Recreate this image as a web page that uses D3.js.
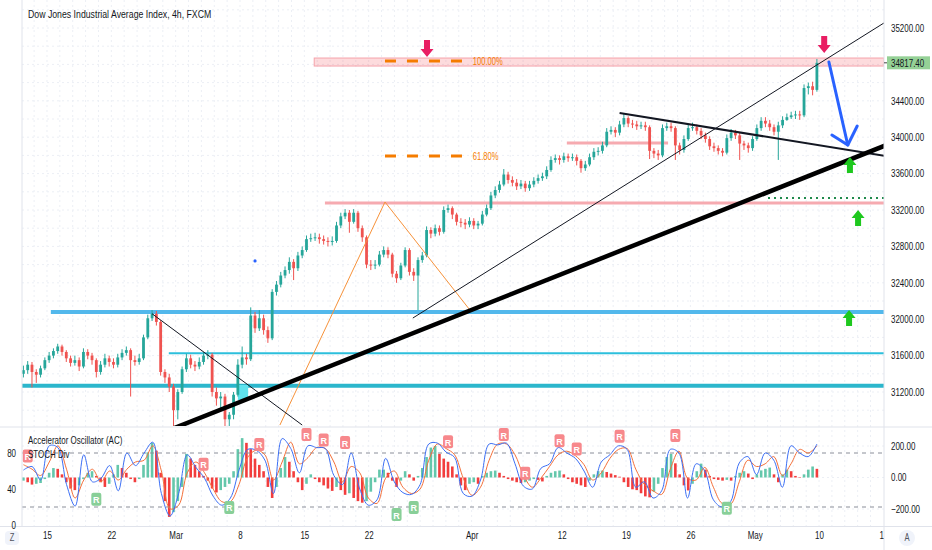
<!DOCTYPE html>
<meta charset="utf-8">
<style>
body{ margin:0; background:#fff; font-family:"Liberation Sans", Arial, sans-serif; }
svg text{ fill:#131722; }
</style>
<body>
<div id="chart"></div>
<script src="https://d3js.org/d3.v7.min.js"></script>
<script>

// ---- data (4h bars, 3 per trading day) ----
var firstOpen = 31400;
var closes = [
 31440,31500,31420,31390,31460,31550,31600,31650,31700,31640,
 31570,31520,31550,31480,31640,31600,31550,31420,31500,31570,
 31530,31500,31580,31630,31660,31550,31530,31570,31800,32010,
 32060,31970,31420,31360,31260,31000,31200,31450,31570,31500,
 31480,31530,31600,31610,31200,31130,31150,30900,30950,31170,
 31500,31580,31560,32040,31900,32010,31880,31790,32300,32380,
 32480,32540,32630,32560,32700,32760,32880,32890,32900,32880,
 32860,32850,32860,33030,33130,33170,33070,33170,33000,32900,
 32600,32590,32600,32710,32760,32710,32500,32450,32590,32760,
 32520,32480,32650,32700,32980,32940,33000,32960,33200,33220,
 33150,33070,33060,33040,33080,33030,33050,33150,33220,33360,
 33420,33480,33590,33530,33500,33460,33490,33440,33480,33520,
 33550,33570,33640,33750,33770,33750,33790,33770,33780,33740,
 33660,33700,33780,33840,33850,33910,34060,34080,34050,34140,
 34210,34150,34140,34120,34130,34110,33850,33820,33800,34100,
 34120,34100,33910,33860,33980,34100,34110,34070,34020,33980,
 33900,33880,33850,33830,33990,34050,34020,33930,33910,33880,
 33980,34100,34180,34150,34110,34060,34130,34190,34220,34240,
 34250,34240,34540,34560,34520,34817.4];
var highs = [
 31490,31540,31530,31450,31490,31580,31640,31680,31730,31720,
 31660,31600,31600,31580,31680,31670,31630,31570,31540,31620,
 31600,31570,31620,31670,31700,31680,31600,31620,31830,32050,
 32100,32090,31990,31450,31400,31290,31230,31480,31620,31610,
 31540,31580,31640,31660,31630,31250,31200,31180,30980,31200,
 31560,31700,31620,32130,32080,32100,32050,31920,32330,32420,
 32520,32580,32680,32660,32740,32800,32920,32940,32950,32940,
 32920,32900,32910,33070,33170,33210,33200,33210,33190,33030,
 32920,32650,32650,32750,32800,32790,32730,32530,32620,32790,
 32780,32560,32680,32740,33020,33010,33040,33030,33240,33260,
 33240,33170,33110,33100,33120,33110,33080,33190,33260,33400,
 33460,33520,33650,33620,33570,33540,33530,33520,33520,33560,
 33590,33610,33680,33790,33810,33800,33830,33820,33820,33810,
 33760,33740,33820,33880,33890,33950,34100,34120,34110,34180,
 34260,34230,34190,34180,34170,34170,34130,33880,33860,34140,
 34160,34160,34120,33940,34020,34140,34160,34140,34100,34050,
 34010,33940,33910,33880,34030,34090,34080,34050,33960,33940,
 34010,34140,34220,34220,34190,34140,34170,34230,34260,34280,
 34290,34290,34580,34600,34610,34860];
var lows = [
 31360,31400,31250,31300,31360,31440,31520,31570,31620,31600,
 31530,31480,31490,31430,31460,31560,31500,31360,31390,31470,
 31480,31460,31470,31550,31600,31150,31490,31500,31550,31780,
 31980,31930,31380,31300,31200,30700,30900,31180,31420,31460,
 31430,31450,31500,31560,31150,31050,31000,30750,30700,30900,
 31150,31460,31500,31540,31850,31870,31830,31740,31770,32260,
 32350,32450,32500,32430,32530,32670,32740,32850,32860,32830,
 32820,32800,32810,32840,33000,33100,32950,33050,32960,32850,
 32560,32540,32550,32580,32680,32670,32460,32400,32430,32570,
 32480,32420,32100,32620,32680,32890,32910,32920,32940,33170,
 33100,33030,33010,32990,33010,32990,32990,33030,33130,33200,
 33330,33390,33460,33490,33460,33420,33430,33400,33410,33450,
 33490,33520,33540,33620,33720,33700,33720,33730,33740,33690,
 33610,33630,33680,33750,33800,33820,33890,34030,34000,34020,
 34110,34110,34100,34080,34090,34070,33760,33770,33750,33780,
 34070,34060,33750,33810,33830,33960,34070,34030,33980,33940,
 33860,33840,33810,33790,33810,33960,33980,33750,33860,33830,
 33850,33960,34070,34110,34070,34020,33750,34100,34180,34200,
 34200,34190,34220,34470,34460,34500];

// Accelerator Oscillator, one value per bar
var acValues = [
 -20,-30,-45,-40,-35,-10,30,60,55,20,
 -30,-70,-80,-50,-10,30,40,10,-30,-60,
 -40,20,80,60,30,-10,-30,-10,80,160,
 220,170,30,-150,-250,-220,-150,-60,150,120,
 80,40,10,-20,-70,-95,-80,-60,-40,40,
 180,250,220,180,120,80,40,-60,-130,-60,
 60,130,100,40,-30,-80,-40,20,-10,-30,
 -50,-70,-85,-60,-80,-110,-100,-130,-150,-160,
 -150,-90,-30,50,50,30,-20,-60,-20,40,
 20,-20,10,60,130,190,200,150,120,100,
 70,20,-50,-80,-40,-30,-40,10,30,40,
 44,30,10,-10,-20,-30,-35,-30,-20,-10,
 -15,-25,10,30,40,44,20,-10,-30,-40,
 -50,-60,-20,20,40,44,35,25,15,5,
 -30,-60,-75,-80,-100,-120,-126,-90,-40,60,
 130,150,90,20,-50,-82,-40,40,88,50,
 10,-10,-15,-20,-15,-20,10,30,40,25,
 -10,20,45,55,63,20,-30,20,50,40,
 10,0,20,50,70,55];

// Stochastic, one sample every two bars
var stochK = [
 61,65,50,88,86,45,21,78,48,52, 66,38,80,66,80,92,35,10,35,78,
 64,52,32,22,30,61,84,83,72,35, 96,85,58,88,86,85,55,45,80,40,
 22,28,74,48,36,34,45,90,91,81, 75,35,32,50,90,89,91,68,43,40,
 63,68,86,80,74,60,42,70,78,88, 84,42,48,30,38,84,80,30,68,60,
 28,20,26,69,76,56,80,72,42,88, 80,76,90];
var stochD = [
 67,62,55,70,88,62,30,50,62,48, 60,50,62,70,72,88,60,18,22,58,
 70,58,40,26,26,45,75,83,78,50, 70,92,68,75,86,85,70,48,65,58,
 30,24,52,60,42,35,40,72,90,85, 78,52,33,42,72,90,90,78,55,42,
 52,65,78,82,77,67,50,58,74,84, 85,62,45,38,34,62,82,52,50,64,
 42,24,23,48,72,65,68,76,55,68, 84,80,88];

// divergence "R" markers: [bar, stoch level]
var bearMarks = [[1,76],[42,67],[55,89],[66,100],[70,94],[75,91],[99,92],[112,100],[117,57],[125,93],[129,84],[139,98],[152,99]];
var bullMarks = [[17,28],[48,19],[87,11],[91,19],[164,18]];

var timeLabels = ["15","22","Mar","8","15","22","Apr","12","19","26","May","10","17"];
var timeBars = [5.5,20.5,35.5,50.5,65.5,80.5,104.5,125.5,140.5,155.5,170.5,185.5,200.5];
var priceTicks = [31200,31600,32000,32400,32800,33200,33600,34000,34400,34800,35200];
var stochTicks = [0,40,80];
var stochBands = [80,20];
var acTicks = [-200,0,200];

// drawings (bar, price)
var resistZone = {from:67.8, top:34870, bottom:34782};
var fibLevels = [{label:"100.00%", price:34837}, {label:"61.80%", price:33793}];
var fibBars = [84.3, 102.9];
var pinkLevels = [{from:70.3, to:null, price:33277}, {from:126.7, to:150.3, price:33936}];
var dottedLevel = {from:173.6, price:33332};
var blueLevels = [{from:6.4, price:32080, w:4, c:"#52b8ec"}, {from:33.9, price:31625, w:2, c:"#2cbfdc"}, {from:-1, price:31270, w:4, c:"#2bb6cc"}];
var cyanBox = {from:50, to:52.4, top:31277, bottom:31112};
var downTrend = [[30,32060],[65,30837]];
var bigTrend = [[35,30800],[201,33910]];
var channelLine = [[90.8,32013],[201,35266]];
var upperLine = [[139,34266],[201,33793]];
var triangle = [[59.8,30837],[84.3,33288],[104.1,32101]];
var redArrows = [[94.1,34881],[186.7,34925]];
var greenArrows = [[192.7,33782],[194.6,33200],[192.5,32101]];
var blueArrowShaft = [[187.8,34826],[192.2,33914]];
var blueArrowHead = [[188.5,34024],[192.2,33914],[194.4,34123]];
var blueDot = [54,32640];

// ---- layout ----
var W = 932, H = 550;
var plotL = 22, plotR = 884, mainB = 426, oscT = 428, oscB = 526;
var green = "#26a69a", red = "#ef5350";

var svg = d3.select("#chart").append("svg")
    .attr("width", W).attr("height", H)
    .style("display","block");

var x = d3.scaleLinear().domain([0, 185]).range([23.4, 816.9]);
var y = d3.scaleLinear().domain([31200, 35200]).range([392, 28]);
var ys = d3.scaleLinear().domain([0, 80]).range([525, 453]);
var ya = d3.scaleLinear().domain([-200, 200]).range([509, 446]);
var xs = d3.scaleLinear().domain([0, stochK.length - 1]).range([x(0), x(185)]);

var defs = svg.append("defs");
defs.append("clipPath").attr("id","mainClip").append("rect")
    .attr("x", plotL).attr("y", 0).attr("width", plotR - plotL).attr("height", mainB);
defs.append("clipPath").attr("id","oscClip").append("rect")
    .attr("x", plotL).attr("y", oscT).attr("width", plotR - plotL).attr("height", oscB - oscT);
defs.append("clipPath").attr("id","timeClip").append("rect")
    .attr("x", 0).attr("y", oscB).attr("width", plotR).attr("height", H - oscB);

// grid
var dayBars = d3.range(-0.5, 200, 3);
var grid = svg.append("g").attr("stroke", "#eceff5").attr("stroke-dasharray", "2,3");
grid.selectAll("line.v").data(dayBars.filter(function(d){ return x(d) > plotL && x(d) < plotR; }))
  .join("line")
    .attr("x1", function(d){ return x(d); }).attr("x2", function(d){ return x(d); })
    .attr("y1", 0).attr("y2", oscB);
grid.selectAll("line.h").data(d3.range(30800, 35600, 200))
  .join("line")
    .attr("x1", plotL).attr("x2", plotR)
    .attr("y1", function(d){ return y(d); }).attr("y2", function(d){ return y(d); })
    .attr("clip-path","url(#mainClip)");
grid.selectAll("line.a").data(acTicks).enter().append("line")
    .attr("x1", plotL).attr("x2", plotR)
    .attr("y1", function(d){ return ya(d); }).attr("y2", function(d){ return ya(d); });

// ---- main pane ----
var main = svg.append("g").attr("clip-path","url(#mainClip)");

main.append("rect")
    .attr("x", x(resistZone.from)).attr("width", plotR - x(resistZone.from))
    .attr("y", y(resistZone.top)).attr("height", y(resistZone.bottom) - y(resistZone.top))
    .attr("fill", "rgba(242,54,69,0.18)").attr("stroke", "#f5a3ab");

pinkLevels.forEach(function(l){
  main.append("line")
      .attr("x1", x(l.from)).attr("x2", l.to === null ? plotR : x(l.to))
      .attr("y1", y(l.price)).attr("y2", y(l.price))
      .attr("stroke", "#f6aab0").attr("stroke-width", 3);
});

main.selectAll("line.blue").data(blueLevels).enter().append("line")
    .attr("x1", function(d){ return x(d.from); }).attr("x2", plotR)
    .attr("y1", function(d){ return y(d.price); }).attr("y2", function(d){ return y(d.price); })
    .attr("stroke", function(d){ return d.c; })
    .attr("stroke-width", function(d){ return d.w; });

main.append("rect")
    .attr("x", x(cyanBox.from)).attr("width", x(cyanBox.to) - x(cyanBox.from))
    .attr("y", y(cyanBox.top)).attr("height", y(cyanBox.bottom) - y(cyanBox.top))
    .attr("fill", "#5fe3ee");

// candles
var bars = closes.map(function(c, i){
  return {i:i, o: i ? closes[i-1] : firstOpen, h: highs[i], l: lows[i], c: c};
});
var candle = main.append("g").selectAll("g").data(bars).join("g")
    .attr("stroke", function(d){ return d.c >= d.o ? green : red; })
    .attr("fill", function(d){ return d.c >= d.o ? green : red; });
candle.append("line")
    .attr("x1", function(d){ return x(d.i); }).attr("x2", function(d){ return x(d.i); })
    .attr("y1", function(d){ return y(d.h); }).attr("y2", function(d){ return y(d.l); })
    .attr("stroke-width", 1);
candle.append("rect")
    .attr("x", function(d){ return x(d.i) - 1.4; }).attr("width", 2.8)
    .attr("y", function(d){ return y(Math.max(d.o, d.c)); })
    .attr("height", function(d){ return Math.max(1, Math.abs(y(d.o) - y(d.c))); })
    .attr("stroke", "none");

// fib levels
fibLevels.forEach(function(f){
  main.append("line")
      .attr("x1", x(fibBars[0])).attr("x2", x(fibBars[1]))
      .attr("y1", y(f.price)).attr("y2", y(f.price))
      .attr("stroke", "#f57c00").attr("stroke-width", 3).attr("stroke-dasharray", "11,11");
  main.append("text")
      .attr("x", x(fibBars[1]) + 8).attr("y", y(f.price) + 3.5)
      .style("font-size", "10px").style("fill", "#f57c00")
      .text(f.label);
});

main.append("line")
    .attr("x1", x(dottedLevel.from)).attr("x2", plotR)
    .attr("y1", y(dottedLevel.price)).attr("y2", y(dottedLevel.price))
    .attr("stroke", "#1f8a4c").attr("stroke-width", 2).attr("stroke-dasharray", "2,4");

var line = d3.line().x(function(d){ return x(d[0]); }).y(function(d){ return y(d[1]); });
main.append("path").attr("d", line(triangle)).attr("fill","none").attr("stroke","#f7923a").attr("stroke-width",1);
main.append("path").attr("d", line(downTrend)).attr("fill","none").attr("stroke","#131722").attr("stroke-width",1);
main.append("path").attr("d", line(channelLine)).attr("fill","none").attr("stroke","#131722").attr("stroke-width",1);
main.append("path").attr("d", line(upperLine)).attr("fill","none").attr("stroke","#131722").attr("stroke-width",2);
main.append("path").attr("d", line(bigTrend)).attr("fill","none").attr("stroke","#000").attr("stroke-width",4.5);

main.append("path").attr("d", line(blueArrowShaft)).attr("fill","none")
    .attr("stroke","#2962ff").attr("stroke-width",3).attr("stroke-linecap","round");
main.append("path").attr("d", line(blueArrowHead)).attr("fill","none")
    .attr("stroke","#2962ff").attr("stroke-width",3).attr("stroke-linecap","round").attr("stroke-linejoin","round");

main.selectAll("path.down").data(redArrows).enter().append("path")
    .attr("transform", function(d){ return "translate(" + x(d[0]) + "," + y(d[1]) + ")"; })
    .attr("d", "M0,0L-6.5,-8L-3,-8L-3,-17L3,-17L3,-8L6.5,-8Z")
    .attr("fill", "#e91e63");
main.selectAll("path.up").data(greenArrows).enter().append("path")
    .attr("transform", function(d){ return "translate(" + x(d[0]) + "," + y(d[1]) + ")"; })
    .attr("d", "M0,0L-6.5,8L-3,8L-3,16L3,16L3,8L6.5,8Z")
    .attr("fill", "#1ec81e");

main.append("circle").attr("cx", x(blueDot[0])).attr("cy", y(blueDot[1])).attr("r", 1.6).attr("fill", "#2962ff");

// ---- oscillator pane ----
var osc = svg.append("g").attr("clip-path","url(#oscClip)");

osc.selectAll("rect.ac").data(acValues).join("rect")
    .attr("x", function(d, i){ return x(i) - 1.3; }).attr("width", 2.6)
    .attr("y", function(d){ return Math.min(ya(0), ya(d)); })
    .attr("height", function(d){ return Math.max(0.5, Math.abs(ya(d) - ya(0))); })
    .attr("fill", function(d, i){ return (i === 0 || d >= acValues[i-1]) ? "#64c7ab" : "#f23d3d"; });

osc.selectAll("line.band").data(stochBands).enter().append("line")
    .attr("x1", plotL).attr("x2", plotR)
    .attr("y1", function(d){ return ys(d); }).attr("y2", function(d){ return ys(d); })
    .attr("stroke", "#8a8e99").attr("stroke-dasharray", "4,4");

var sline = d3.line().curve(d3.curveCatmullRom).x(function(d, i){ return xs(i); }).y(function(d){ return ys(d); });
osc.append("path").attr("d", sline(stochD)).attr("fill","none").attr("stroke","#f4703a").attr("stroke-width",1);
osc.append("path").attr("d", sline(stochK)).attr("fill","none").attr("stroke","#3c6ff5").attr("stroke-width",1);

function rMark(data, fill){
  var g = osc.selectAll(null).data(data).enter().append("g")
      .attr("transform", function(d){ return "translate(" + x(d[0]) + "," + ys(d[1]) + ")"; });
  g.append("rect").attr("x", -5).attr("y", -7).attr("width", 10).attr("height", 13)
      .attr("rx", 2).attr("fill", fill);
  g.append("text").attr("class","keep").attr("text-anchor","middle").attr("y", 3.5)
      .style("font-size","9px").style("font-weight","bold").style("fill","#fff").text("R");
}
rMark(bearMarks, "#f7888c");
rMark(bullMarks, "#88cf98");

// ---- frames ----
var frame = svg.append("g").attr("stroke", "#e0e3eb");
frame.append("line").attr("x1", 0).attr("x2", W).attr("y1", 427).attr("y2", 427);
frame.append("line").attr("x1", 0).attr("x2", W).attr("y1", oscB + 0.5).attr("y2", oscB + 0.5);
frame.append("line").attr("x1", plotL).attr("x2", plotL).attr("y1", 0).attr("y2", oscB);
frame.append("line").attr("x1", plotR).attr("x2", plotR).attr("y1", 0).attr("y2", H);

// ---- axes ----
var fmt = d3.format(".2f");
var pAxis = svg.append("g").attr("transform", "translate(" + plotR + ",0)")
    .call(d3.axisRight(y).tickValues(priceTicks).tickFormat(fmt).tickSize(0).tickPadding(7));
var aAxis = svg.append("g").attr("transform", "translate(" + plotR + ",0)")
    .call(d3.axisRight(ya).tickValues(acTicks).tickFormat(fmt).tickSize(0).tickPadding(7));
var sAxis = svg.append("g").attr("transform", "translate(" + plotL + ",0)")
    .call(d3.axisLeft(ys).tickValues(stochTicks).tickSize(0).tickPadding(6));
var tAxis = svg.append("g").attr("clip-path","url(#timeClip)")
  .append("g").attr("transform", "translate(0,532)")
    .call(d3.axisBottom(x).tickValues(timeBars).tickFormat(function(d, i){ return timeLabels[i]; }).tickSize(0).tickPadding(0));
[pAxis, aAxis, sAxis, tAxis].forEach(function(a){
  a.select(".domain").remove();
  a.selectAll("text").style("font-size", "10.5px").style("font-family", "'Liberation Sans', Arial, sans-serif").attr("fill", "#131722");
});

// last price tag
var last = closes[closes.length - 1];
svg.append("line").attr("x1", plotR).attr("x2", plotR + 4).attr("y1", y(last)).attr("y2", y(last)).attr("stroke", "#444");
svg.append("rect").attr("x", plotR + 3).attr("y", y(last) - 6.5).attr("width", 43).attr("height", 13).attr("fill", "#95d196");
svg.append("text").attr("x", plotR + 7).attr("y", y(last) + 3.8)
    .style("font-size", "10.5px").text(fmt(last));

// corner buttons
svg.append("rect").attr("x", 5).attr("y", 531).attr("width", 14).attr("height", 14).attr("rx", 4).attr("fill", "#f0f3fa");
svg.append("text").attr("x", 12).attr("y", 541.5).attr("text-anchor","middle").style("font-size","10px").style("fill","#50535e").text("Z");
svg.append("circle").attr("cx", 907).attr("cy", 538).attr("r", 8).attr("fill", "#f0f3fa");
svg.append("text").attr("x", 907).attr("y", 541.5).attr("text-anchor","middle").style("font-size","10px").style("fill","#50535e").text("A");

// titles
svg.append("text").attr("x", 28).attr("y", 18).style("font-size", "11.5px")
    .text("Dow Jones Industrial Average Index, 4h, FXCM");
svg.append("text").attr("x", 28).attr("y", 444.5).style("font-size", "10.5px")
    .text("Accelerator Oscillator (AC)");
svg.append("text").attr("x", 28).attr("y", 458.5).style("font-size", "10.5px")
    .text("STOCH Div");

// the reference screenshot is horizontally condensed: squeeze text about its anchor
svg.selectAll("text").filter(function(){ return !this.classList.contains("keep"); })
  .each(function(){
    var ax = +(this.getAttribute("x") || 0);
    this.setAttribute("transform", "matrix(0.76,0,0,1," + (ax * 0.24) + ",0)");
  });

</script>
</body>
